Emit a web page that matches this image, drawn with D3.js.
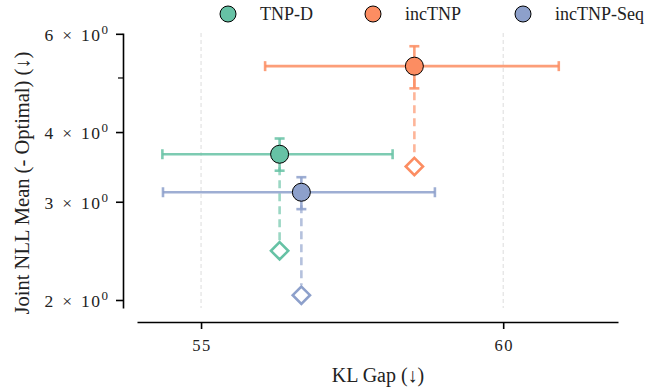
<!DOCTYPE html>
<html>
<head>
<meta charset="utf-8">
<script src="https://cdn.jsdelivr.net/npm/d3@7"></script>
<style>
  body { margin: 0; background: #fff; }
  svg { display: block; }
  text { font-family: "Liberation Serif", "DejaVu Serif", serif; fill: #222; }
</style>
</head>
<body>
<div id="chart"></div>
<script>
// data
const methods = ["TNP-D", "incTNP", "incTNP-Seq"];
const colors = ["#66c2a5", "#fc8d62", "#8da0cb"];
const klMean = [56.30, 58.53, 56.66];
const klLow = [54.36, 56.06, 54.37];
const klHigh = [58.17, 60.92, 58.87];
const nllMean = [3.65, 5.25, 3.12];
const nllLow = [3.41, 4.79, 2.91];
const nllHigh = [3.895, 5.70, 3.32];
const nllTarget = [2.45, 3.47, 2.04];
const xTicks = [55, 60];
const yTicks = [2, 3, 4, 6];
const yMinor = [5];

const width = 646;
const height = 389;

const svg = d3.select("#chart")
  .append("svg")
  .attr("width", width)
  .attr("height", height);

// scales
const x = d3.scaleLinear()
  .domain([53.94, 61.9])
  .range([137, 618]);

const y = d3.scaleLog()
  .domain([1.935, 6.02])
  .range([308, 33]);

// gridlines
svg.append("g")
  .selectAll("line")
  .data(xTicks)
  .join("line")
  .attr("x1", d => x(d)).attr("x2", d => x(d))
  .attr("y1", 33).attr("y2", 308)
  .attr("stroke", "#dcdcdc")
  .attr("stroke-width", 1)
  .attr("stroke-dasharray", "4,3");

// x axis (offset spine), labels drawn separately
const xAxis = svg.append("g")
  .attr("transform", "translate(0,322)")
  .call(d3.axisBottom(x).tickValues(xTicks).tickSize(7).tickSizeOuter(0).tickFormat(""));
xAxis.select(".domain").attr("stroke", "#000").attr("stroke-width", 1.6);
xAxis.selectAll(".tick line").attr("stroke", "#000").attr("stroke-width", 1.6);

svg.append("g")
  .selectAll("text")
  .data(xTicks)
  .join("text")
  .attr("x", d => x(d) + 1)
  .attr("y", 351)
  .attr("text-anchor", "middle")
  .attr("font-family", "Liberation Serif")
  .attr("font-size", 16.5)
  .attr("letter-spacing", 1.5)
  .text(d => d);

// y axis (offset spine)
const yAxis = svg.append("g")
  .attr("transform", "translate(123,0)")
  .call(d3.axisLeft(y).tickValues(yTicks).tickSize(7).tickSizeOuter(0).tickFormat(""));
yAxis.select(".domain").attr("stroke", "#000").attr("stroke-width", 1.6);
yAxis.selectAll(".tick line").attr("stroke", "#000").attr("stroke-width", 1.6);

yAxis.append("g")
  .selectAll("line")
  .data(yMinor)
  .join("line")
  .attr("x1", 0).attr("x2", -5)
  .attr("y1", d => y(d)).attr("y2", d => y(d))
  .attr("stroke", "#000")
  .attr("stroke-width", 1.2);

const yLabels = svg.append("g")
  .selectAll("text")
  .data(yTicks)
  .join("text")
  .attr("x", 108)
  .attr("y", d => y(d) + 7)
  .attr("text-anchor", "end")
  .attr("font-family", "Liberation Serif")
  .attr("font-size", 17.5);

yLabels.each(function(d) {
  const t = d3.select(this);
  t.append("tspan").text(d);
  t.append("tspan").attr("dx", 9).text("\u00d7");
  t.append("tspan").attr("dx", 9).attr("letter-spacing", 1.5).text("10");
  t.append("tspan").attr("dy", -7).attr("font-size", 13).text("0");
});

// axis labels
svg.append("text")
  .attr("x", 378)
  .attr("y", 382)
  .attr("text-anchor", "middle")
  .attr("font-size", 20)
  .text("KL Gap (\u2193)");

svg.append("text")
  .attr("transform", "translate(29,183) rotate(-90)")
  .attr("text-anchor", "middle")
  .attr("font-size", 20.5)
  .text("Joint NLL Mean (- Optimal) (\u2193)");

// series
const rows = methods.map((m, i) => ({
  name: m,
  color: colors[i],
  kl: klMean[i], klLo: klLow[i], klHi: klHigh[i],
  nll: nllMean[i], nllLo: nllLow[i], nllHi: nllHigh[i],
  target: nllTarget[i]
}));

const errs = svg.append("g");
const cap = 5;

rows.forEach(d => {
  const g = errs.append("g")
    .attr("stroke", d.color)
    .attr("stroke-width", 2.6)
    .attr("stroke-opacity", 0.85);

  // dashed link to target
  g.append("line")
    .attr("x1", x(d.kl)).attr("x2", x(d.kl))
    .attr("y1", y(d.nll)).attr("y2", y(d.target) - 10)
    .attr("stroke-dasharray", "8,5")
    .attr("stroke-opacity", 0.65);

  // horizontal error
  g.append("line")
    .attr("x1", x(d.klLo)).attr("x2", x(d.klHi))
    .attr("y1", y(d.nll)).attr("y2", y(d.nll));
  [d.klLo, d.klHi].forEach(v => {
    g.append("line")
      .attr("x1", x(v)).attr("x2", x(v))
      .attr("y1", y(d.nll) - cap).attr("y2", y(d.nll) + cap);
  });

  // vertical error
  g.append("line")
    .attr("x1", x(d.kl)).attr("x2", x(d.kl))
    .attr("y1", y(d.nllLo)).attr("y2", y(d.nllHi));
  [d.nllLo, d.nllHi].forEach(v => {
    g.append("line")
      .attr("x1", x(d.kl) - cap).attr("x2", x(d.kl) + cap)
      .attr("y1", y(v)).attr("y2", y(v));
  });
});

// target diamonds
svg.append("g")
  .selectAll("path")
  .data(rows)
  .join("path")
  .attr("d", d3.symbol(d3.symbolDiamond2, 190))
  .attr("transform", d => `translate(${x(d.kl)},${y(d.target)})`)
  .attr("fill", "none")
  .attr("stroke", d => d.color)
  .attr("stroke-width", 2.6);

// mean circles
svg.append("g")
  .selectAll("circle")
  .data(rows)
  .join("circle")
  .attr("cx", d => x(d.kl))
  .attr("cy", d => y(d.nll))
  .attr("r", 9)
  .attr("fill", d => d.color)
  .attr("stroke", "#000")
  .attr("stroke-width", 1);

// legend
const legendX = [228, 373, 523];
const legend = svg.append("g");
rows.forEach((d, i) => {
  legend.append("circle")
    .attr("cx", legendX[i]).attr("cy", 14)
    .attr("r", 8)
    .attr("fill", d.color)
    .attr("stroke", "#000")
    .attr("stroke-width", 1);
  legend.append("text")
    .attr("x", legendX[i] + 32)
    .attr("y", 20)
    .attr("font-size", 18)
    .text(d.name);
});
</script>
</body>
</html>
